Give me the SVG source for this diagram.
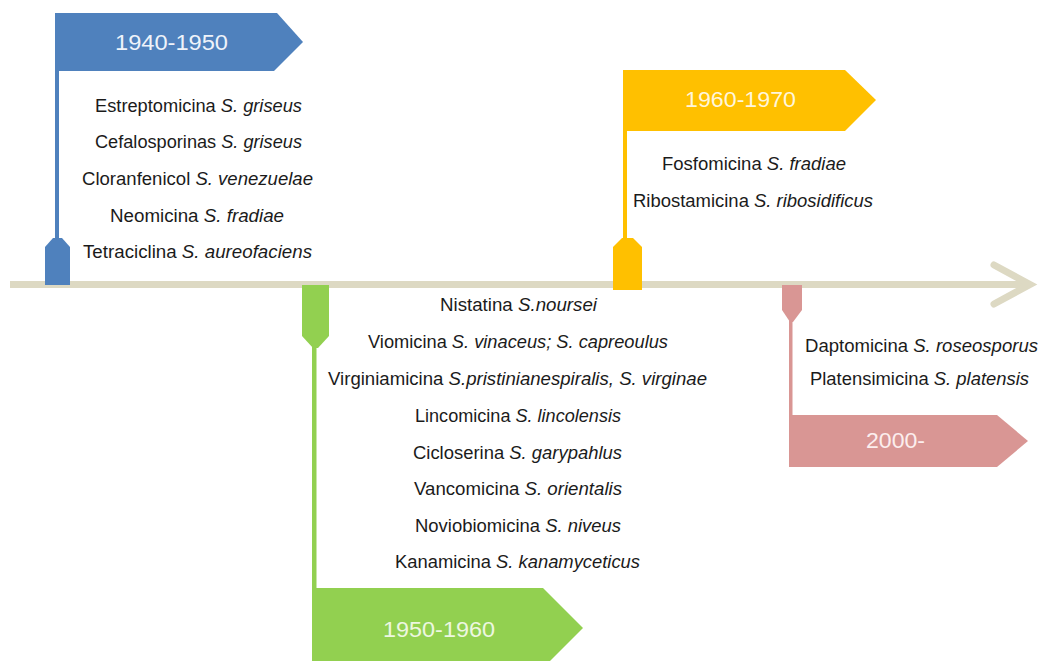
<svg xmlns="http://www.w3.org/2000/svg" width="1041" height="661" viewBox="0 0 1041 661">
  <style>
    .item { font-family: "Liberation Sans", Arial, sans-serif; font-size: 17.5px; fill: #1b1b1b; }
    .item tspan.sp { font-style: italic; }
    .title { font-family: "Liberation Sans", Arial, sans-serif; font-size: 22.5px; }
    .blue { fill: #4F81BD; }
    .green { fill: #92D050; }
    .yellow { fill: #FFC000; }
    .pink { fill: #D99694; }
  </style>
  <rect width="1041" height="661" fill="#ffffff"/>

  <!-- time axis -->
  <g id="connectors" stroke="#DDD9C3" stroke-width="7" fill="none">
    <line x1="10" y1="284.5" x2="1026" y2="284.5"/>
    <polyline points="994,265 1030,284.5 994,304" stroke-linecap="round" stroke-linejoin="miter"/>
  </g>

  <!-- 1940-1950 -->
  <g id="node-1940">
    <rect class="blue" x="55" y="13" width="4" height="230"/>
    <polygon class="blue" points="55,13 277,13 303,42 274,71 55,71"/>
    <polygon class="blue" points="45,285 45,247 53,238 62,238 70,247 70,285"/>
    <text class="title" x="115" y="50" fill="#EEF3FA" textLength="113" lengthAdjust="spacingAndGlyphs">1940-1950</text>
    <text class="item" x="95" y="112" textLength="207" lengthAdjust="spacingAndGlyphs">Estreptomicina <tspan class="sp">S. griseus</tspan></text>
    <text class="item" x="95" y="148" textLength="207" lengthAdjust="spacingAndGlyphs">Cefalosporinas <tspan class="sp">S. griseus</tspan></text>
    <text class="item" x="82" y="185" textLength="231" lengthAdjust="spacingAndGlyphs">Cloranfenicol  <tspan class="sp">S. venezuelae</tspan></text>
    <text class="item" x="110" y="222" textLength="174" lengthAdjust="spacingAndGlyphs">Neomicina <tspan class="sp">S. fradiae</tspan></text>
    <text class="item" x="83" y="258" textLength="229" lengthAdjust="spacingAndGlyphs">Tetraciclina <tspan class="sp">S. aureofaciens</tspan></text>
  </g>

  <!-- 1950-1960 -->
  <g id="node-1950">
    <polygon class="green" points="302,285 329,285 329,336 318,348 313,348 302,336"/>
    <rect class="green" x="312" y="346" width="4.5" height="244"/>
    <polygon class="green" points="312,588 543,588 583,628 550,661 312,661"/>
    <text class="title" x="383" y="637" fill="#EDF7E0" textLength="112" lengthAdjust="spacingAndGlyphs">1950-1960</text>
    <text class="item" x="440" y="311" textLength="157" lengthAdjust="spacingAndGlyphs">Nistatina <tspan class="sp">S.noursei</tspan></text>
    <text class="item" x="368" y="348" textLength="300" lengthAdjust="spacingAndGlyphs">Viomicina <tspan class="sp">S. vinaceus; S. capreoulus</tspan></text>
    <text class="item" x="328" y="385" textLength="379" lengthAdjust="spacingAndGlyphs">Virginiamicina <tspan class="sp">S.pristinianespiralis, S. virginae</tspan></text>
    <text class="item" x="415" y="422" textLength="206" lengthAdjust="spacingAndGlyphs">Lincomicina <tspan class="sp">S. lincolensis</tspan></text>
    <text class="item" x="413" y="459" textLength="209" lengthAdjust="spacingAndGlyphs">Cicloserina <tspan class="sp">S. garypahlus</tspan></text>
    <text class="item" x="414" y="495" textLength="208" lengthAdjust="spacingAndGlyphs">Vancomicina <tspan class="sp">S. orientalis</tspan></text>
    <text class="item" x="415" y="532" textLength="206" lengthAdjust="spacingAndGlyphs">Noviobiomicina <tspan class="sp">S. niveus</tspan></text>
    <text class="item" x="395" y="568" textLength="245" lengthAdjust="spacingAndGlyphs">Kanamicina <tspan class="sp">S. kanamyceticus</tspan></text>
  </g>

  <!-- 1960-1970 -->
  <g id="node-1960">
    <rect class="yellow" x="623" y="70" width="4" height="172"/>
    <polygon class="yellow" points="623,70 845,70 876,100 845,131 623,131"/>
    <polygon class="yellow" points="613,290 613,247 622,238 633,238 642,247 642,290"/>
    <text class="title" x="685" y="107" fill="#FFF6DC" textLength="111" lengthAdjust="spacingAndGlyphs">1960-1970</text>
    <text class="item" x="662" y="170" textLength="184" lengthAdjust="spacingAndGlyphs">Fosfomicina <tspan class="sp">S. fradiae</tspan></text>
    <text class="item" x="633" y="207" textLength="240" lengthAdjust="spacingAndGlyphs">Ribostamicina <tspan class="sp">S. ribosidificus</tspan></text>
  </g>

  <!-- 2000- -->
  <g id="node-2000">
    <polygon class="pink" points="782,285 802,285 802,310 793,322 790,322 782,310"/>
    <rect class="pink" x="789" y="320" width="3.5" height="97"/>
    <polygon class="pink" points="789,415 997,415 1028,441 997,467 789,467"/>
    <text class="title" x="866" y="448" fill="#FCEEEE" textLength="59" lengthAdjust="spacingAndGlyphs">2000-</text>
    <text class="item" x="805" y="352" textLength="233" lengthAdjust="spacingAndGlyphs">Daptomicina  <tspan class="sp">S. roseosporus</tspan></text>
    <text class="item" x="810" y="385" textLength="219" lengthAdjust="spacingAndGlyphs">Platensimicina <tspan class="sp">S. platensis</tspan></text>
  </g>
</svg>
